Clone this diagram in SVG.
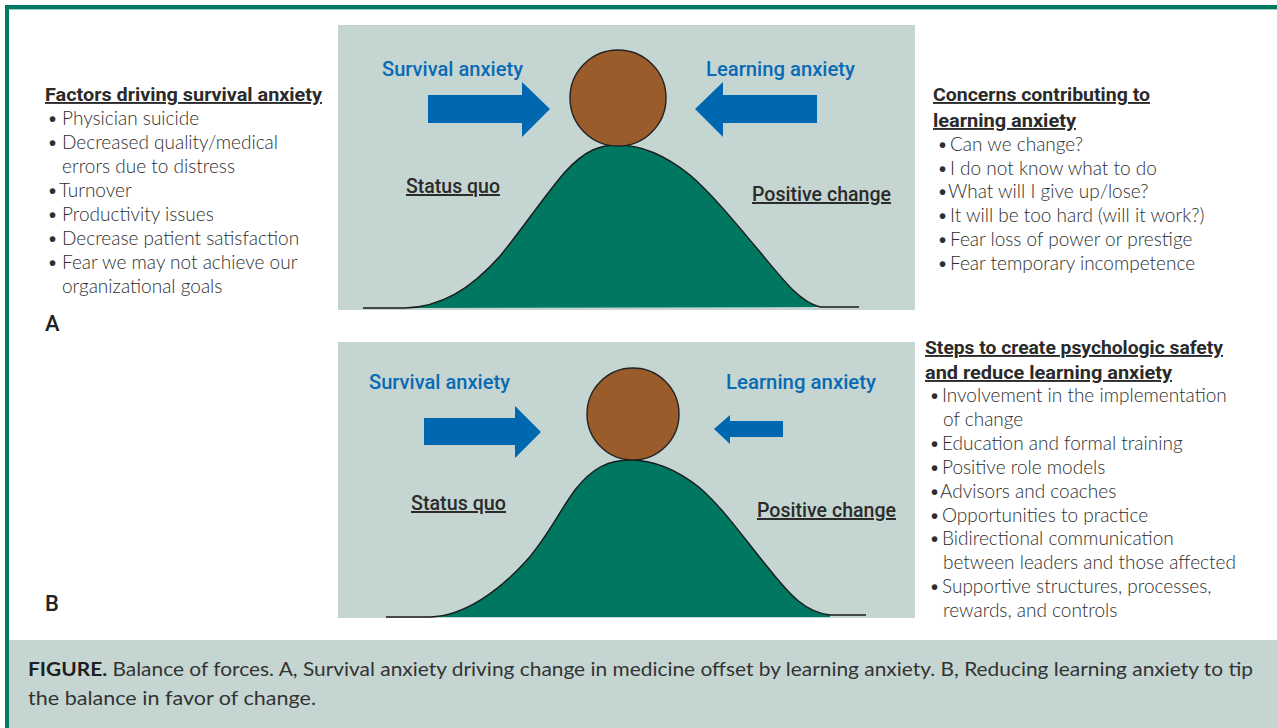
<svg xmlns="http://www.w3.org/2000/svg" width="1277" height="728" viewBox="0 0 1277 728">
<style>
.bg{fill:#c5d6d2}
.hill{fill:#007760}
.line{fill:none;stroke:#1a1a1a;stroke-width:1.4}
.ball{fill:#9a5c2a;stroke:#222;stroke-width:1.4}
.arrow{fill:#0067b1}
.force{font-family:Roboto,"Liberation Sans",sans-serif;font-weight:500;font-size:21px;fill:#0a6ab4}
.state{font-family:Roboto,"Liberation Sans",sans-serif;font-weight:500;font-size:20px;fill:#2b2b2b;text-decoration:underline}
.head{font-family:Roboto,"Liberation Sans",sans-serif;font-weight:700;font-size:19px;fill:#2a2a2a;text-decoration:underline}
.body{font-family:Lato,"Liberation Sans",sans-serif;font-weight:300;font-size:19px;fill:#2e2e2e}
.lab{font-family:Roboto,"Liberation Sans",sans-serif;font-weight:500;font-size:22px;fill:#222}
.cap{font-family:Lato,"Liberation Sans",sans-serif;font-size:19px;fill:#333}
</style>
<rect width="1277" height="728" fill="#ffffff"/>
<rect x="8" y="640" width="1269" height="88" class="bg"/>
<rect x="5" y="5" width="1272" height="4" fill="#007a62"/>
<rect x="5" y="9" width="1272" height="1" fill="#9fcfc3"/>
<rect x="5" y="5" width="4" height="723" fill="#007a62"/>

<g id="panel-a">
  <rect x="338" y="25" width="577" height="285" class="bg"/>
  <path class="hill" d="M405,308 C440,307 470,290 500,256 C520,232 545,195 565,172 C585,150 600,145 618,145 C640,145 665,155 690,175 C710,192 735,222 760,252 C785,282 800,302 820,307 Z"/>
  <path class="line" d="M363,308 L405,308 C440,307 470,290 500,256 C520,232 545,195 565,172 C585,150 600,145 618,145 C640,145 665,155 690,175 C710,192 735,222 760,252 C785,282 800,302 820,307 L859,307"/>
  <g id="ball-a"><circle class="ball" cx="618" cy="98" r="48"/></g>
  <text class="force" x="382" y="76" textLength="141" lengthAdjust="spacingAndGlyphs">Survival anxiety</text>
  <text class="force" x="706" y="76" textLength="149" lengthAdjust="spacingAndGlyphs">Learning anxiety</text>
  <text class="state" x="406" y="193" textLength="94" lengthAdjust="spacingAndGlyphs">Status quo</text>
  <text class="state" x="752" y="201" textLength="139" lengthAdjust="spacingAndGlyphs">Positive change</text>
</g>

<g id="panel-b">
  <rect x="338" y="342" width="577" height="276" class="bg"/>
  <path class="hill" d="M430,617 C465,616 500,590 527,560 C548,536 560,510 575,490 C592,468 608,460 630,460 C652,460 675,468 700,488 C725,510 745,540 770,570 C790,595 805,612 830,615 L830,617 Z"/>
  <path class="line" d="M386,617 L430,617 C465,616 500,590 527,560 C548,536 560,510 575,490 C592,468 608,460 630,460 C652,460 675,468 700,488 C725,510 745,540 770,570 C790,595 805,612 830,615 L866,615"/>
  <g id="ball-b"><circle class="ball" cx="633" cy="414" r="46"/></g>
  <text class="force" x="369" y="389" textLength="141" lengthAdjust="spacingAndGlyphs">Survival anxiety</text>
  <text class="force" x="726" y="389" textLength="150" lengthAdjust="spacingAndGlyphs">Learning anxiety</text>
  <text class="state" x="411" y="510" textLength="95" lengthAdjust="spacingAndGlyphs">Status quo</text>
  <text class="state" x="757" y="517" textLength="139" lengthAdjust="spacingAndGlyphs">Positive change</text>
</g>

<g id="connectors">
  <polygon class="arrow" points="428,95 522,95 522,82 550,109 522,137 522,123 428,123"/>
  <polygon class="arrow" points="817,95 723,95 723,82 695,109 723,137 723,123 817,123"/>
  <polygon class="arrow" points="424,418 515,418 515,406 541,432 515,458 515,445 424,445"/>
  <polygon class="arrow" points="783,421 730,421 730,415 714,429 730,444 730,437 783,437"/>
</g>

<g id="list-survival">
  <text class="head" x="45" y="101" textLength="277" lengthAdjust="spacingAndGlyphs">Factors driving survival anxiety</text>
  <text class="body" x="47" y="125">•</text><text class="body" x="62" y="125">Physician suicide</text>
  <text class="body" x="47" y="149">•</text><text class="body" x="62" y="149">Decreased quality/medical</text>
  <text class="body" x="62" y="173">errors due to distress</text>
  <text class="body" x="47" y="197">•</text><text class="body" x="59" y="197">Turnover</text>
  <text class="body" x="47" y="221">•</text><text class="body" x="62" y="221">Productivity issues</text>
  <text class="body" x="47" y="245">•</text><text class="body" x="62" y="245">Decrease patient satisfaction</text>
  <text class="body" x="47" y="269">•</text><text class="body" x="62" y="269">Fear we may not achieve our</text>
  <text class="body" x="62" y="293">organizational goals</text>
  <text class="lab" x="45" y="331">A</text>
</g>

<g id="list-concerns">
  <text class="head" x="933" y="101" textLength="217" lengthAdjust="spacingAndGlyphs">Concerns contributing to</text>
  <text class="head" x="933" y="127" textLength="143" lengthAdjust="spacingAndGlyphs">learning anxiety</text>
  <text class="body" x="937" y="151">•</text><text class="body" x="950" y="151">Can we change?</text>
  <text class="body" x="937" y="175">•</text><text class="body" x="950" y="175">I do not know what to do</text>
  <text class="body" x="937" y="198">•</text><text class="body" x="948" y="198">What will I give up/lose?</text>
  <text class="body" x="937" y="222">•</text><text class="body" x="950" y="222">It will be too hard (will it work?)</text>
  <text class="body" x="937" y="246">•</text><text class="body" x="950" y="246">Fear loss of power or prestige</text>
  <text class="body" x="937" y="270">•</text><text class="body" x="950" y="270">Fear temporary incompetence</text>
</g>

<g id="list-steps">
  <text class="head" x="925" y="354" textLength="298" lengthAdjust="spacingAndGlyphs">Steps to create psychologic safety</text>
  <text class="head" x="925" y="379" textLength="247" lengthAdjust="spacingAndGlyphs">and reduce learning anxiety</text>
  <text class="body" x="929" y="402">•</text><text class="body" x="942" y="402">Involvement in the implementation</text>
  <text class="body" x="943" y="426">of change</text>
  <text class="body" x="929" y="450">•</text><text class="body" x="942" y="450">Education and formal training</text>
  <text class="body" x="929" y="474">•</text><text class="body" x="942" y="474">Positive role models</text>
  <text class="body" x="929" y="498">•</text><text class="body" x="940" y="498">Advisors and coaches</text>
  <text class="body" x="929" y="522">•</text><text class="body" x="942" y="522">Opportunities to practice</text>
  <text class="body" x="929" y="545">•</text><text class="body" x="942" y="545">Bidirectional communication</text>
  <text class="body" x="943" y="569">between leaders and those affected</text>
  <text class="body" x="929" y="593">•</text><text class="body" x="942" y="593">Supportive structures, processes,</text>
  <text class="body" x="943" y="617">rewards, and controls</text>
  <text class="lab" x="45" y="611">B</text>
</g>

<g id="caption">
  <text class="cap" x="28" y="676" textLength="1225" lengthAdjust="spacingAndGlyphs"><tspan font-weight="700" fill="#1e1e1e">FIGURE.</tspan> Balance of forces. A, Survival anxiety driving change in medicine offset by learning anxiety. B, Reducing learning anxiety to tip</text>
  <text class="cap" x="28" y="705" textLength="288" lengthAdjust="spacingAndGlyphs">the balance in favor of change.</text>
</g>
</svg>
